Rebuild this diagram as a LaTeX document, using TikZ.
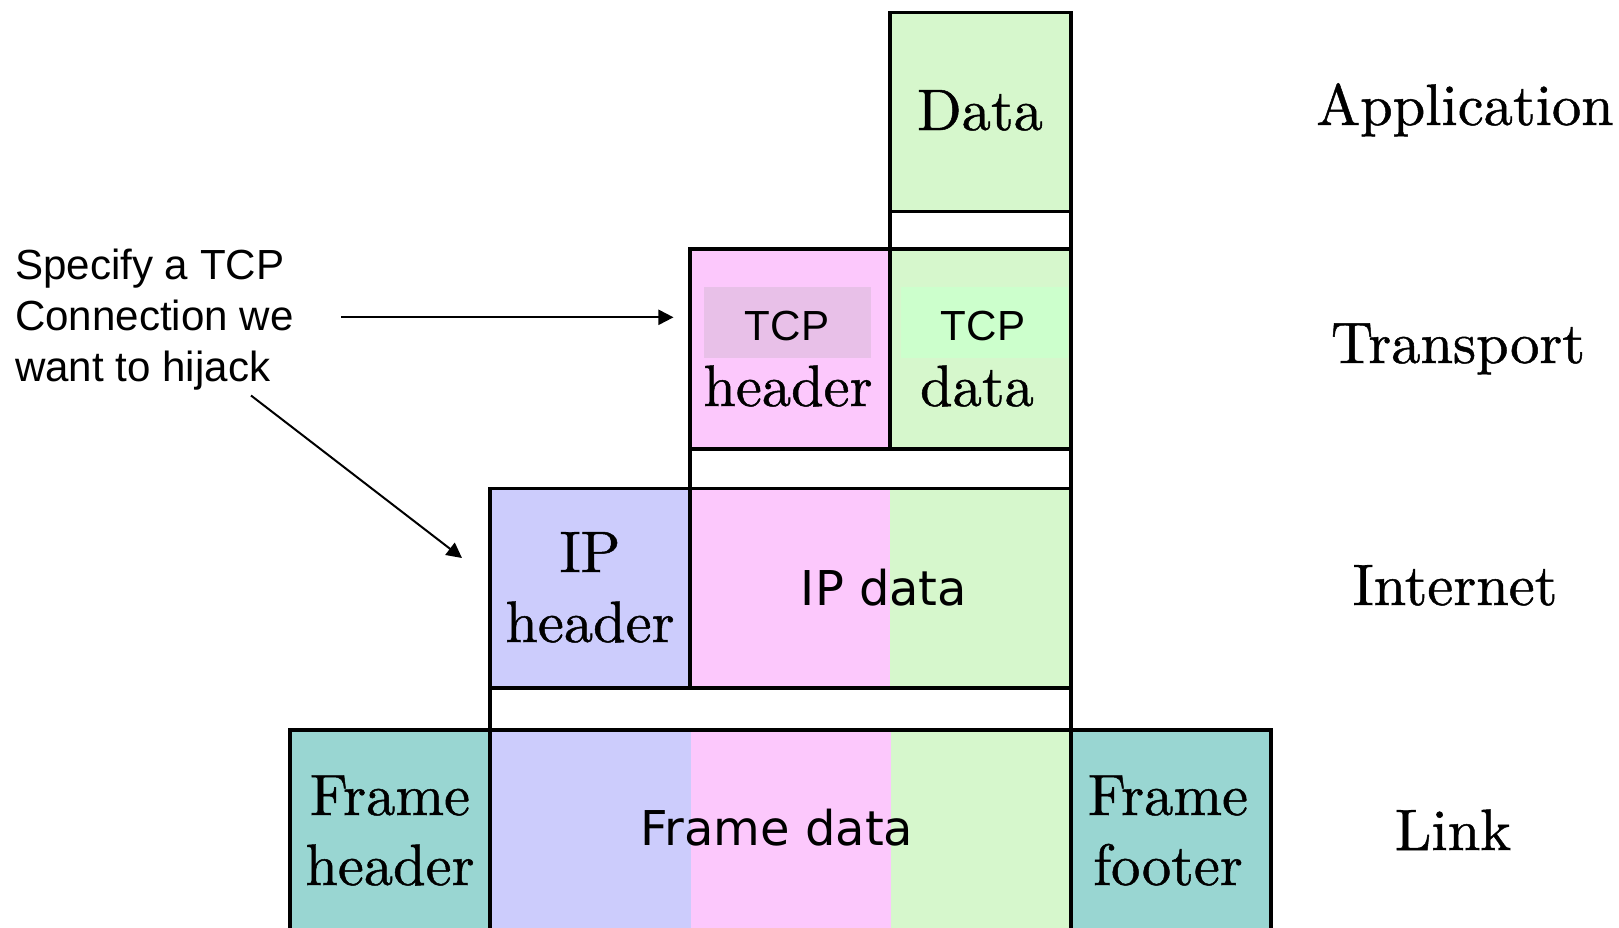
\documentclass[tikz,border=0pt]{standalone}
\usepackage{fontspec}
\setmainfont{lmroman10-regular}[Extension=.otf, FakeBold=0.8]
\newfontfamily\arialfont{Liberation Sans}
\newfontfamily\verafont{DejaVu Sans}
\usetikzlibrary{fit,arrows.meta}

% layer colours
\definecolor{appgreen}{RGB}{214,247,204}
\definecolor{tcppink}{RGB}{252,200,252}
\definecolor{iplav}{RGB}{204,204,252}
\definecolor{frameteal}{RGB}{153,214,210}
\definecolor{hdrmark}{RGB}{232,192,232}
\definecolor{datmark}{RGB}{204,255,204}

\begin{document}
\begin{tikzpicture}[x=0.171pt, y=-0.171pt,
  cell/.style={draw=black, line width=0.56pt, inner sep=0pt, outer sep=0pt},
  gapbox/.style={cell, fill=white},
  serif/.style={font=\fontsize{10}{12}\selectfont, anchor=base, inner sep=0pt},
  sanscell/.style={font=\arialfont\fontsize{7.2}{8}\selectfont, anchor=base, inner sep=0pt},
  veratext/.style={font=\verafont\fontsize{8.2}{10}\selectfont, anchor=base, inner sep=0pt},
  layer/.style={serif},
  note/.style={font=\arialfont\fontsize{7.2}{8.72}\selectfont, align=left, anchor=base west,
               inner sep=0pt},
  ptr/.style={line width=0.34pt, -{Triangle[length=2.6pt, width=2.6pt]}}]

\useasboundingbox (0,0) rectangle (1619,927);
\clip (0,0) rectangle (1619,927);

% ---- application layer ----
\node[cell, fill=appgreen, fit={(890,12.5) (1071,211.5)}] (data) {};
\node[gapbox, fit={(890,211.5) (1071,249)}] (gap1) {};

% ---- transport layer ----
\node[cell, fill=tcppink, fit={(690,249) (890,449)}] (tcph) {};
\node[cell, fill=appgreen, fit={(890,249) (1071,449)}] (tcpd) {};
\fill[hdrmark] (704,287) rectangle (870.5,357.5);
\fill[datmark] (900.5,287) rectangle (1068,357.5);
\node[gapbox, fit={(690,449) (1071,488.5)}] (gap2) {};

% ---- internet layer ----
\fill[tcppink] (690,488.5) rectangle (890,688);
\fill[appgreen] (890,488.5) rectangle (1071,688);
\node[cell, fill=iplav, fit={(490,488.5) (690,688)}] (iph) {};
\node[cell, fit={(690,488.5) (1071,688)}] (ipd) {};
\node[gapbox, fit={(490,688) (1071,730)}] (gap3) {};

% ---- link layer ----
\fill[iplav] (490,730) rectangle (691,960);
\fill[tcppink] (691,730) rectangle (891,960);
\fill[appgreen] (891,730) rectangle (1071,960);
\node[cell, fill=frameteal, fit={(290,730) (490,960)}] (frh) {};
\node[cell, fit={(490,730) (1071,960)}] (frd) {};
\node[cell, fill=frameteal, fit={(1071,730) (1271,960)}] (frf) {};

% ---- cell texts ----
\node[serif] (tdata) at (980,130) {Data};
\node[sanscell] (ttcph) at (787,340) {TCP};
\node[serif] (thdr) at (788,406) {header};
\node[sanscell] (ttcpd) at (983,340) {TCP};
\node[serif] (tdat) at (977,406) {data};
\node[serif] (tip) at (590,572) {IP};
\node[serif] (tiphdr) at (590,642) {header};
\node[veratext] (tipd) at (884,605.5) {IP data};
\node[serif] (tfr1) at (390,815) {Frame};
\node[serif] (tfr2) at (390,885) {header};
\node[veratext] (tfrd) at (777,845.7) {Frame data};
\node[serif] (tff1) at (1168,815) {Frame};
\node[serif] (tff2) at (1168,885) {footer};

% ---- layer names ----
\node[layer] (lapp) at (1465,125) {Application};
\node[layer] (ltr) at (1458,363) {Transport};
\node[layer] (lin) at (1455,605) {Internet};
\node[layer] (llk) at (1453,850) {Link};

% ---- annotation (anchored on its last baseline) ----
\node[note] (hint) at (14,381) {Specify a TCP\\Connection we\\want to hijack};
\coordinate (a1s) at (341,317.3);
\coordinate (a1e) at (673.5,317.3);
\coordinate (a2s) at (251,395.5);
\coordinate (a2e) at (462,558);
\draw[ptr] (a1s) -- (a1e);
\draw[ptr] (a2s) -- (a2e);
\end{tikzpicture}
\end{document}
